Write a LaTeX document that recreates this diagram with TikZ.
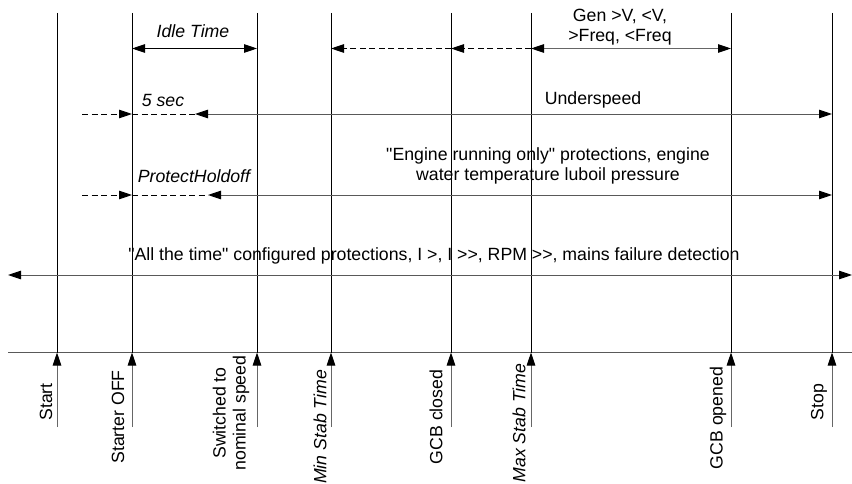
\documentclass[tikz,border=0pt]{standalone}
\usepackage{fontspec}
\setmainfont{Liberation Sans}
\newfontfamily\arialf{Liberation Sans}
\usetikzlibrary{arrows.meta}
\begin{document}
\begin{tikzpicture}[x=1pt,y=-1pt,
  tip/.tip={Triangle[length=13pt,width=8.5pt,color=black]},
  vline/.style={line width=0.95pt,black},
  hline/.style={line width=0.9pt,black!65},
  dline/.style={line width=0.9pt,black,dash pattern=on 6pt off 3.5pt},
  evarrow/.style={line width=0.9pt,black!60,-tip},
  lbl/.style={font=\arialf\fontsize{17.7}{20}\selectfont,inner sep=0pt,align=center},
  ilbl/.style={lbl,font=\arialf\fontsize{17.7}{20}\selectfont\itshape},
  vlbl/.style={lbl,rotate=90},
  ivlbl/.style={ilbl,rotate=90}]
\useasboundingbox (0,0) rectangle (852,484);
% line tops
\coordinate (t1) at (57,13);
\coordinate (t2) at (132,13);
\coordinate (t3) at (257,13);
\coordinate (t4) at (331,13);
\coordinate (t5) at (451,13);
\coordinate (t6) at (531,13);
\coordinate (t7) at (731,13);
\coordinate (t8) at (832,13);
% rows
\coordinate (tl) at (0,352.5);
\coordinate (ev) at (0,427);
\coordinate (r1) at (0,48.5);
\coordinate (r2) at (0,114);
\coordinate (r3) at (0,195);
\coordinate (r4) at (0,275);
\coordinate (dl) at (82,0);
\coordinate (u5) at (195,0);
\coordinate (u6) at (208,0);
\coordinate (le) at (8,0);
\coordinate (re) at (852,0);
% timeline
\draw[hline] (le|-tl) -- (re|-tl);
% vertical lines and event arrows
\foreach \i in {1,...,8}{
  \draw[vline] (t\i) -- (t\i|-tl);
  \draw[evarrow] (t\i|-ev) -- (t\i|-tl);
}
% row 1
\draw[line width=0.9pt,black,tip-tip] (t2|-r1) -- (t3|-r1);
\draw[dline,-tip] (t5|-r1) -- (t4|-r1);
\draw[dline,-tip] (t6|-r1) -- (t5|-r1);
\draw[line width=0.9pt,black!60,tip-tip] (t6|-r1) -- (t7|-r1);
% row 2
\draw[dline,-tip] (dl|-r2) -- (t2|-r2);
\draw[dline] (t2|-r2) -- (u5|-r2);
\draw[hline,tip-tip] (u5|-r2) -- (t8|-r2);
% row 3
\draw[dline,-tip] (dl|-r3) -- (t2|-r3);
\draw[dline] (t2|-r3) -- (u6|-r3);
\draw[hline,tip-tip] (u6|-r3) -- (t8|-r3);
% row 4
\draw[hline,tip-tip] (le|-r4) -- (re|-r4);
% labels
\node[ilbl] (idle) at (193,31) {Idle Time};
\node[lbl] (gen) at (620,27) {Gen >V, <V,\\>Freq, <Freq};
\node[ilbl] (five) at (163,100) {5 sec};
\node[lbl] (under) at (593,100) {Underspeed};
\node[ilbl] (hold) at (194,176) {ProtectHoldoff};
\node[lbl] (eng) at (548,166) {"Engine running only" protections, engine\\water temperature luboil pressure};
\node[lbl] (all) at (434,256) {"All the time" configured protections, I >, I >>, RPM >>, mains failure detection};
% event labels
\node[vlbl] (e1) at (46,402) {Start};
\node[vlbl] (e2) at (118,417) {Starter OFF};
\node[vlbl] (e3) at (231,413) {Switched to\\nominal speed};
\node[ivlbl] (e4) at (320,427) {Min Stab Time};
\node[vlbl] (e5) at (436,417) {GCB closed};
\node[ivlbl] (e6) at (519,423) {Max Stab Time};
\node[vlbl] (e7) at (718,418) {GCB opened};
\node[vlbl] (e8) at (819,402) {Stop};
\end{tikzpicture}
\end{document}
